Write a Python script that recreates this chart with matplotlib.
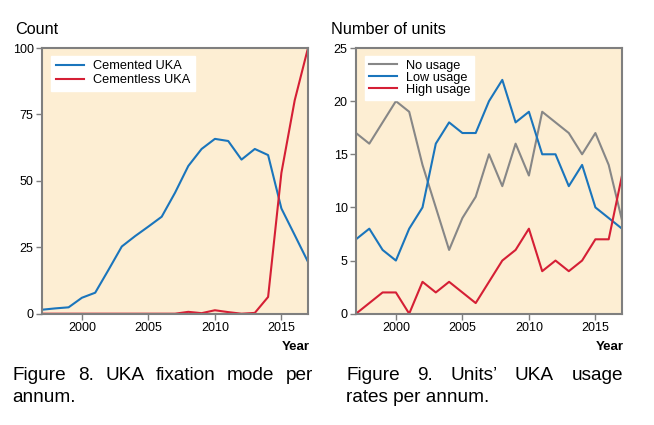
import numpy as np
import matplotlib
matplotlib.use("Agg")
import matplotlib.pyplot as plt

plt.rcParams['font.family'] = ['Liberation Sans', 'DejaVu Sans']

years = np.arange(1997, 2018)

# Figure 8 - fixation mode per annum
cemented = [1.5, 2.0, 2.4, 6.0, 7.9, 16.5, 25.3, 29.2, 32.8, 36.5, 45.5,
            55.6, 62.0, 65.8, 65.0, 58.0, 62.0, 59.7, 39.6, 29.6, 19.5]
cementless = [0, 0, 0, 0, 0, 0, 0, 0, 0, 0, 0,
              0.7, 0.2, 1.3, 0.6, 0, 0.3, 6.3, 53.0, 80.3, 100]

# Figure 9 - units' usage rates per annum
no_usage = [17, 16, 18, 20, 19, 14, 10, 6, 9, 11, 15,
            12, 16, 13, 19, 18, 17, 15, 17, 14, 8.8]
low_usage = [7, 8, 6, 5, 8, 10, 16, 18, 17, 17, 20,
             22, 18, 19, 15, 15, 12, 14, 10, 9, 8]
high_usage = [0, 1, 2, 2, 0, 3, 2, 3, 2, 1, 3,
              5, 6, 8, 4, 5, 4, 5, 7, 7, 13]

BLUE = '#1a75bc'
RED = '#d51f35'
GRAY = '#878787'
BG = '#fdeed3'
SPINE = '#7f7f7f'

fig = plt.figure(figsize=(6.54, 4.25), dpi=100)
W, H = 654.0, 425.0

def px_axes(x0, x1, ytop, ybot):
    return fig.add_axes([x0 / W, 1 - ybot / H, (x1 - x0) / W, (ybot - ytop) / H])

def style(ax, ymax, ystep):
    ax.set_facecolor(BG)
    ax.set_xlim(1997, 2017)
    ax.set_ylim(0, ymax)
    ax.set_xticks([2000, 2005, 2010, 2015])
    ax.set_yticks(np.arange(0, ymax + 1, ystep))
    for s in ax.spines.values():
        s.set_color(SPINE)
        s.set_linewidth(1.5)
    ax.tick_params(axis='both', direction='out', length=4, width=1,
                   color=SPINE, labelsize=9, labelcolor='#000000', pad=2)
    ax.tick_params(top=False, right=False)

ax1 = px_axes(42, 308, 48, 313.7)
ax1.plot(years, cemented, color=BLUE, lw=1.5, label='Cemented UKA')
ax1.plot(years, cementless, color=RED, lw=1.5, label='Cementless UKA')
style(ax1, 100, 25)
leg1 = ax1.legend(loc='upper left', bbox_to_anchor=(0.035, 0.97), fontsize=9.2,
                  frameon=True, fancybox=False, framealpha=1, edgecolor='white',
                  handlelength=2.2, handletextpad=0.7, borderpad=0.35,
                  labelspacing=0.15, borderaxespad=0)

ax2 = px_axes(356, 622, 48, 313.7)
ax2.plot(years, no_usage, color=GRAY, lw=1.5, label='No usage')
ax2.plot(years, low_usage, color=BLUE, lw=1.5, label='Low usage')
ax2.plot(years, high_usage, color=RED, lw=1.5, label='High usage')
style(ax2, 25, 5)
leg2 = ax2.legend(loc='upper left', bbox_to_anchor=(0.033, 0.97), fontsize=9.2,
                  frameon=True, fancybox=False, framealpha=1, edgecolor='white',
                  handlelength=2.2, handletextpad=0.7, borderpad=0.3,
                  labelspacing=0.0, borderaxespad=0)

# titles and axis names
fig.text(15 / W, 1 - 33.5 / H, 'Count', fontsize=11.7, va='baseline', ha='left')
fig.text(331 / W, 1 - 33.5 / H, 'Number of units', fontsize=11.7, va='baseline', ha='left')
fig.text(310 / W, 1 - 350.5 / H, 'Year', fontsize=9.5, fontweight='bold',
         va='baseline', ha='right')
fig.text(624 / W, 1 - 350.5 / H, 'Year', fontsize=9.5, fontweight='bold',
         va='baseline', ha='right')

# justified captions
renderer = fig.canvas.get_renderer()

def justified(words, xl, xr, yb, size=13.7):
    arts = [fig.text(0, 1 - yb / H, w, fontsize=size, va='baseline', ha='left')
            for w in words]
    widths = [a.get_window_extent(renderer).width for a in arts]
    gap = (xr - xl - sum(widths)) / max(len(words) - 1, 1)
    x = xl
    for a, w in zip(arts, widths):
        a.set_x(x / W)
        x += w + gap

justified(['Figure', '8.', 'UKA', 'fixation', 'mode', 'per'], 12.7, 313, 379.5)
fig.text(12.7 / W, 1 - 401.7 / H, 'annum.', fontsize=13.7, va='baseline', ha='left')
justified(['Figure', '9.', 'Units\u2019', 'UKA', 'usage'], 346, 623, 379.5)
fig.text(346 / W, 1 - 401.7 / H, 'rates per annum.', fontsize=13.7,
         va='baseline', ha='left')

fig.savefig('out.png', dpi=100, facecolor='white')
